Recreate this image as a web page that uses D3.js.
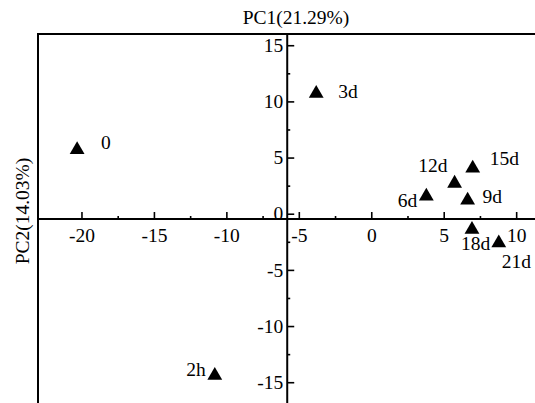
<!DOCTYPE html>
<html>
<head>
<meta charset="utf-8">
<script src="https://cdn.jsdelivr.net/npm/d3@7"></script>
<style>
    body { margin: 0; background: #fff; }
    svg { display: block; font-family: "Liberation Serif", "Times New Roman", serif; }
</style>
</head>
<body>
<div id="chart"></div>
<script>
'use strict';

// samples (storage time) and their scores
var samples = ["0", "2h", "3d", "6d", "9d", "12d", "15d", "18d", "21d"];
var pc1 = [-20.3, -10.8, -3.8, 3.8, 6.65, 5.75, 7.0, 6.95, 8.8];
var pc2 = [5.7, -14.4, 10.7, 1.55, 1.2, 2.7, 4.05, -1.4, -2.6];

var xTicks = [-20, -15, -10, -5, 0, 5, 10];
var yTicks = [-15, -10, -5, 0, 5, 10, 15];
var xTitle = "PC1(21.29%)";
var yTitle = "PC2(14.03%)";

// where the label sits next to its triangle
var labelPos = {
    "0":   { anchor: "start", dx: 24, dy: -1 },
    "2h":  { anchor: "end",   dx: -9, dy: 1 },
    "3d":  { anchor: "start", dx: 22, dy: 4 },
    "6d":  { anchor: "end",   dx: -9, dy: 11 },
    "9d":  { anchor: "start", dx: 15, dy: 3 },
    "12d": { anchor: "end",   dx: -7, dy: -11 },
    "15d": { anchor: "start", dx: 17, dy: -3 },
    "18d": { anchor: "start", dx: -11, dy: 21 },
    "21d": { anchor: "start", dx: 3, dy: 25 }
};

var width = 535, height = 403;
var marginLeft = 38, marginTop = 34;
var fontSize = "19.5px";

var svg = d3.select("#chart")
    .append("svg")
    .attr("width", width)
    .attr("height", height);

var x = d3.scaleLinear().domain([-23, 11.3]).range([marginLeft, width]);
var y = d3.scaleLinear().domain([16, -16.85]).range([marginTop, height]);

// the axes cross away from the origin in the original plot
var xCross = -5.8, yCross = -0.47;

// plain hyphen for negatives, like the original
var fmt = function (d) { return String(d); };

// frame (only top and left are visible)
svg.append("path")
    .attr("d", "M" + marginLeft + "," + height + "V" + marginTop + "H" + width)
    .attr("fill", "none")
    .attr("stroke", "#000")
    .attr("stroke-width", 2);

// minor ticks
var xMinor = xTicks.slice(0, -1).map(function (d) { return d + 2.5; });
var yMinor = yTicks.slice(0, -1).map(function (d) { return d + 2.5; });

var xAxis = svg.append("g")
    .attr("transform", "translate(0," + y(yCross) + ")")
    .call(d3.axisBottom(x).tickValues(xTicks).tickFormat(fmt).tickSizeInner(-7).tickSizeOuter(0).tickPadding(9));

svg.append("g")
    .attr("transform", "translate(0," + y(yCross) + ")")
    .call(d3.axisBottom(x).tickValues(xMinor).tickSizeInner(-3).tickSizeOuter(0).tickFormat(""))
    .select(".domain").remove();

var yAxis = svg.append("g")
    .attr("transform", "translate(" + x(xCross) + ",0)")
    .call(d3.axisLeft(y).tickValues(yTicks).tickFormat(fmt).tickSizeInner(-7).tickSizeOuter(0).tickPadding(4));

svg.append("g")
    .attr("transform", "translate(" + x(xCross) + ",0)")
    .call(d3.axisLeft(y).tickValues(yMinor).tickSizeInner(-3).tickSizeOuter(0).tickFormat(""))
    .select(".domain").remove();

svg.selectAll(".domain").attr("stroke-width", 2);
svg.selectAll(".tick line").attr("stroke-width", 1.6);
svg.selectAll(".tick text")
    .style("font-family", "Liberation Serif, Times New Roman, serif")
    .style("font-size", fontSize)
    .attr("fill", "#000");

xAxis.select(".domain").attr("d", "M" + marginLeft + ",0H" + width);
yAxis.select(".domain").attr("d", "M0," + marginTop + "V" + height);

// titles
svg.append("text")
    .attr("x", 296)
    .attr("y", 24)
    .attr("text-anchor", "middle")
    .style("font-size", fontSize)
    .text(xTitle);

svg.append("text")
    .attr("transform", "translate(29,211) rotate(-90)")
    .attr("text-anchor", "middle")
    .style("font-size", fontSize)
    .text(yTitle);

// points
var points = samples.map(function (s, i) {
    return { name: s, pc1: pc1[i], pc2: pc2[i] };
});

var node = svg.append("g")
    .selectAll("g")
    .data(points)
    .enter().append("g")
    .attr("transform", function (d) {
        return "translate(" + x(d.pc1) + "," + y(d.pc2) + ")";
    });

node.append("path")
    .attr("d", d3.symbol().type(d3.symbolTriangle).size(95))
    .attr("fill", "#000");

node.append("text")
    .attr("x", function (d) { return labelPos[d.name].dx; })
    .attr("y", function (d) { return labelPos[d.name].dy; })
    .attr("text-anchor", function (d) { return labelPos[d.name].anchor; })
    .style("font-size", fontSize)
    .text(function (d) { return d.name; });
</script>
</body>
</html>
